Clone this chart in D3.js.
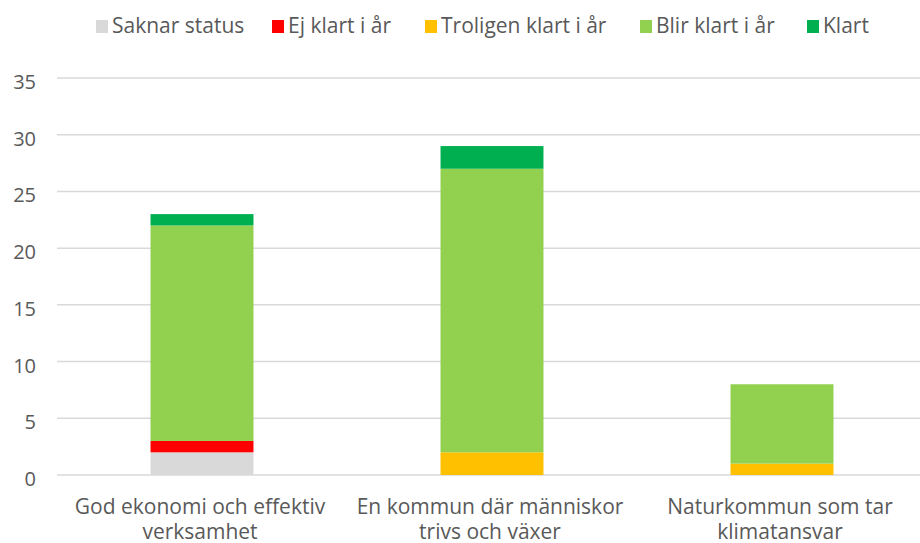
<!DOCTYPE html>
<html>
<head>
<meta charset="utf-8">
<script src="https://cdn.jsdelivr.net/npm/d3@7"></script>
<style>
  body { margin: 0; background: #fff; }
  text { font-family: "Open Sans", Lato, sans-serif; fill: #595959; }
</style>
</head>
<body>
<div id="chart"></div>
<script>
// data
var categories = [
    ["God ekonomi och effektiv", "verksamhet"],
    ["En kommun där människor", "trivs och växer"],
    ["Naturkommun som tar", "klimatansvar"]
];
var seriesNames = ["Saknar status", "Ej klart i år", "Troligen klart i år", "Blir klart i år", "Klart"];
var seriesColors = ["#d9d9d9", "#ff0000", "#ffc000", "#92d050", "#00b050"];
var saknar   = [2, 0, 0];
var ejKlart  = [1, 0, 0];
var troligen = [0, 2, 1];
var blir     = [19, 25, 7];
var klart    = [1, 2, 0];
var yTicks = [0, 5, 10, 15, 20, 25, 30, 35];

var width = 920, height = 543;

var svg = d3.select("#chart").append("svg")
    .attr("width", width)
    .attr("height", height);

// build table for the stack
var table = categories.map(function(c, i) {
    return {
        cat: i,
        s0: saknar[i], s1: ejKlart[i], s2: troligen[i], s3: blir[i], s4: klart[i]
    };
});
var stack = d3.stack().keys(["s0", "s1", "s2", "s3", "s4"]);
var layers = stack(table);

var x = d3.scaleBand()
    .domain([0, 1, 2])
    .range([57, 927])
    .paddingInner(0.645)
    .paddingOuter(0.3225);

var y = d3.scaleLinear()
    .domain([0, 35])
    .range([475, 78]);

// gridlines
svg.append("g").selectAll("line")
    .data(yTicks)
    .enter().append("line")
    .attr("x1", 57)
    .attr("x2", 920)
    .attr("y1", function(d) { return y(d); })
    .attr("y2", function(d) { return y(d); })
    .attr("stroke", "#d9d9d9")
    .attr("stroke-width", 1.5);

// y tick labels
svg.append("g").selectAll("text")
    .data(yTicks)
    .enter().append("text")
    .attr("x", 36)
    .attr("y", function(d) { return y(d) + 4; })
    .attr("dy", ".35em")
    .attr("text-anchor", "end")
    .style("font-size", "20px")
    .text(function(d) { return d; });

// bars
svg.append("g").selectAll("g")
    .data(layers)
    .enter().append("g")
    .attr("fill", function(d, i) { return seriesColors[i]; })
    .selectAll("rect")
    .data(function(d) { return d; })
    .enter().append("rect")
    .attr("x", function(d) { return x(d.data.cat); })
    .attr("width", x.bandwidth())
    .attr("y", function(d) { return y(d[1]); })
    .attr("height", function(d) { return y(d[0]) - y(d[1]); });

// category labels
var catLabels = svg.append("g").selectAll("text")
    .data(categories)
    .enter().append("text")
    .attr("x", function(d, i) { return x(i) + x.bandwidth() / 2 - 2; })
    .attr("text-anchor", "middle")
    .style("font-size", "21px");
catLabels.append("tspan")
    .attr("x", function(d, i) { return x(i) + x.bandwidth() / 2 - 2; })
    .attr("y", 514)
    .text(function(d) { return d[0]; });
catLabels.append("tspan")
    .attr("x", function(d, i) { return x(i) + x.bandwidth() / 2 - 2; })
    .attr("y", 539)
    .text(function(d) { return d[1]; });

// legend
var legend = svg.append("g");
var legendX = [96, 272, 425, 640, 807];
seriesNames.forEach(function(name, i) {
    var g = legend.append("g").attr("transform", "translate(" + legendX[i] + ",20)");
    g.append("rect")
        .attr("x", 0).attr("y", 0)
        .attr("width", 12).attr("height", 13)
        .attr("fill", seriesColors[i]);
    g.append("text")
        .attr("x", 16)
        .attr("y", 6)
        .attr("dy", ".35em")
        .style("font-size", "21px")
        .text(name);
});
</script>
</body>
</html>
